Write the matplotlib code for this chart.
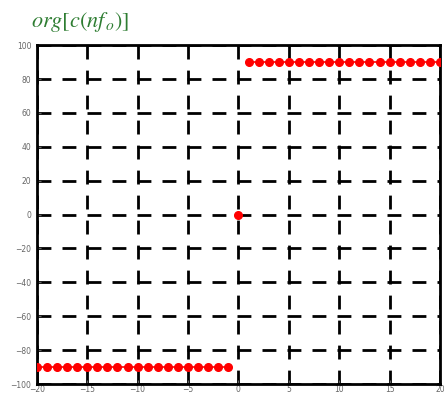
import numpy as np
import matplotlib
matplotlib.use("Agg")
import matplotlib.pyplot as plt

plt.rcParams["mathtext.fontset"] = "stix"

# Phase spectrum of the line harmonics
n_neg = list(range(-20, 0))
phase_neg = [-90] * 20
n_zero = [0]
phase_zero = [0]
n_pos = list(range(1, 21))
phase_pos = [90] * 20

x_ticks = [-20, -15, -10, -5, 0, 5, 10, 15, 20]
y_ticks = [-100, -80, -60, -40, -20, 0, 20, 40, 60, 80, 100]

fig = plt.figure(figsize=(4.44, 4.00), dpi=100)
ax = fig.add_axes([0.083, 0.04, 0.908, 0.847])

ax.set_xlim(-20, 20)
ax.set_ylim(-100, 100)
ax.set_xticks(x_ticks)
ax.set_yticks(y_ticks)
ax.grid(True, color="black", linestyle=(0, (5, 4)), linewidth=2)
ax.set_axisbelow(True)

style = dict(color="red", marker="o", markersize=5.5, linewidth=1.2,
             markerfacecolor="red", markeredgecolor="red", zorder=3)
ax.plot(n_neg, phase_neg, **style)
ax.plot(n_zero, phase_zero, **style)
ax.plot(n_pos, phase_pos, **style)

for sp in ax.spines.values():
    sp.set_linewidth(2)
    sp.set_color("black")
ax.tick_params(direction="in", length=3, labelsize=5.5, labelcolor="#666666",
               colors="#666666")
ax.tick_params(axis="x", pad=1)
ax.tick_params(axis="y", pad=4)

fig.text(0.07, 0.915, r"$org\left[c(nf_{\,o})\right]$", color="#2e7d32",
         fontsize=16, ha="left", va="bottom")

fig.savefig("out.png", dpi=100)
